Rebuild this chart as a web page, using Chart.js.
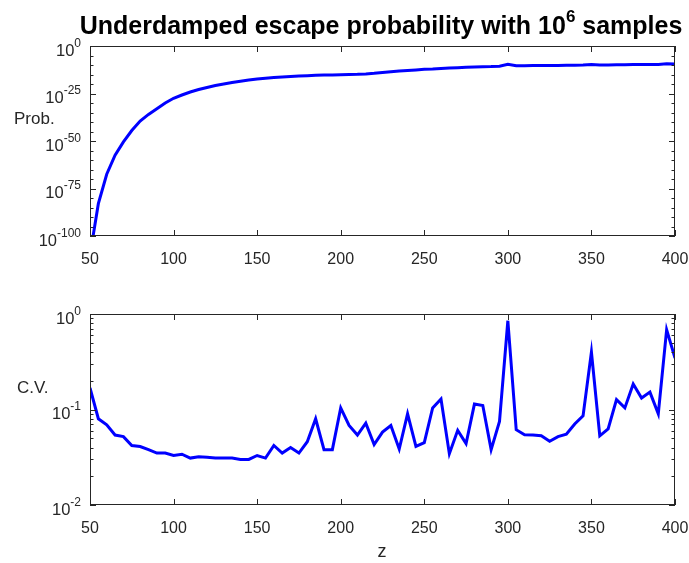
<!DOCTYPE html>
<html>
<head>
<meta charset="utf-8">
<title>Underdamped escape probability</title>
<script src="https://cdn.jsdelivr.net/npm/chart.js@4.4.1/dist/chart.umd.min.js"></script>
<style>
  body { margin: 0; background: #fff; }
  #top { position: absolute; left: 0; top: 0; }
  #bottom { position: absolute; left: 0; top: 290px; }
</style>
</head>
<body>
<canvas id="top" width="689" height="290"></canvas>
<canvas id="bottom" width="689" height="273"></canvas>
<script>
// z values (sample points)
const zValues = [50, 55, 60, 65, 70, 75, 80, 85, 90, 95,
    100, 105, 110, 115, 120, 125, 130, 135, 140, 145,
    150, 155, 160, 165, 170, 175, 180, 185, 190, 195,
    200, 205, 210, 215, 220, 225, 230, 235, 240, 245,
    250, 255, 260, 265, 270, 275, 280, 285, 290, 295,
    300, 305, 310, 315, 320, 325, 330, 335, 340, 345,
    350, 355, 360, 365, 370, 375, 380, 385, 390, 395, 400];

// log10 of escape probability
const probExp = [-110, -83, -67.5, -57.5, -50.5, -44.5, -39.5, -36, -33, -30,
    -27.5, -25.8, -24.2, -22.9, -21.8, -20.8, -20, -19.2, -18.5, -17.9,
    -17.4, -17, -16.6, -16.3, -16, -15.8, -15.6, -15.4, -15.3, -15.2,
    -15.1, -15, -14.9, -14.7, -14.4, -14, -13.6, -13.2, -12.9, -12.6,
    -12.3, -12.1, -11.8, -11.6, -11.4, -11.2, -11, -10.9, -10.8, -10.6,
    -9.6, -10.4, -10.4, -10.3, -10.3, -10.2, -10.2, -10.1, -10.1, -10,
    -9.8, -10, -10, -9.9, -9.9, -9.8, -9.8, -9.7, -9.7, -9.3, -9.5];

// coefficient of variation
const cvValues = [0.168, 0.080, 0.069, 0.054, 0.052, 0.042, 0.041, 0.038, 0.035, 0.035,
    0.033, 0.034, 0.031, 0.032, 0.0316, 0.031, 0.031, 0.031, 0.030, 0.030,
    0.033, 0.031, 0.042, 0.035, 0.040, 0.035, 0.046, 0.080, 0.038, 0.038,
    0.104, 0.068, 0.054, 0.072, 0.043, 0.058, 0.068, 0.0386, 0.090, 0.041,
    0.045, 0.104, 0.129, 0.0345, 0.0605, 0.044, 0.114, 0.110, 0.038, 0.075,
    0.85, 0.0615, 0.0545, 0.054, 0.053, 0.0465, 0.052, 0.055, 0.0705, 0.086,
    0.40, 0.053, 0.0625, 0.127, 0.104, 0.185, 0.132, 0.152, 0.090, 0.685, 0.346];

const xTicks = [50, 100, 150, 200, 250, 300, 350, 400];
const probTicks = [1e-100, 1e-75, 1e-50, 1e-25, 1];
const cvTicks = [0.01, 0.1, 1];

const axisColor = "#262626";
const fontFam = '"Liberation Sans", Arial, sans-serif';

// minor ticks
let probMinor = [];
for (let e = -95; e < 0; e += 5) {
    if (e % 25 !== 0) probMinor.push(Math.pow(10, e));
}
let cvMinor = [];
[0.01, 0.1].forEach(d => {
    for (let k = 2; k <= 9; k++) cvMinor.push(k * d);
});

// frame, inward ticks, superscript labels like matlab
const matlabAxes = {
    id: "matlabAxes",
    afterDraw(chart, args, o) {
        const ctx = chart.ctx;
        const a = chart.chartArea;
        const xs = chart.scales.x, ys = chart.scales.y;
        ctx.save();
        ctx.strokeStyle = axisColor;
        ctx.lineWidth = 1;
        ctx.strokeRect(a.left + 0.5, a.top + 0.5, a.right - a.left - 1, a.bottom - a.top - 1);
        ctx.beginPath();
        xTicks.forEach(v => {
            const px = Math.round(xs.getPixelForValue(v)) + 0.5;
            ctx.moveTo(px, a.bottom); ctx.lineTo(px, a.bottom - 6);
            ctx.moveTo(px, a.top); ctx.lineTo(px, a.top + 6);
        });
        o.major.forEach(v => {
            const py = Math.round(ys.getPixelForValue(v)) + 0.5;
            ctx.moveTo(a.left, py); ctx.lineTo(a.left + 6, py);
            ctx.moveTo(a.right, py); ctx.lineTo(a.right - 6, py);
        });
        o.minor.forEach(v => {
            const py = Math.round(ys.getPixelForValue(v)) + 0.5;
            ctx.moveTo(a.left, py); ctx.lineTo(a.left + 3.5, py);
            ctx.moveTo(a.right, py); ctx.lineTo(a.right - 3.5, py);
        });
        ctx.stroke();

        ctx.fillStyle = axisColor;
        ctx.textBaseline = "middle";
        ctx.textAlign = "left";
        o.major.forEach(v => {
            const py = ys.getPixelForValue(v);
            const e = String(Math.round(Math.log10(v)));
            ctx.font = "12px " + fontFam;
            const we = ctx.measureText(e).width;
            ctx.font = "16.5px " + fontFam;
            const wb = ctx.measureText("10").width;
            const right = a.left - 9;
            ctx.fillText("10", right - we - wb, py + 5);
            ctx.font = "12px " + fontFam;
            ctx.fillText(e, right - we, py - 2.5);
        });

        ctx.font = "17px " + fontFam;
        ctx.fillText(o.yName, o.yNameX, o.yNameY);

        if (o.title) {
            const main = "Underdamped escape probability with 10";
            const sup = "6";
            const tail = " samples";
            ctx.font = "bold 25px " + fontFam;
            const wm = ctx.measureText(main).width;
            const wt = ctx.measureText(tail).width;
            ctx.font = "bold 17px " + fontFam;
            const ws = ctx.measureText(sup).width;
            let x0 = 381 - (wm + ws + wt) / 2;
            ctx.fillStyle = "#000";
            ctx.textBaseline = "alphabetic";
            ctx.font = "bold 25px " + fontFam;
            ctx.fillText(main, x0, 34);
            ctx.font = "bold 17px " + fontFam;
            ctx.fillText(sup, x0 + wm, 22);
            ctx.font = "bold 25px " + fontFam;
            ctx.fillText(tail, x0 + wm + ws, 34);
        }
        if (o.xName) {
            ctx.textAlign = "center";
            ctx.font = "18px " + fontFam;
            ctx.fillStyle = axisColor;
            ctx.fillText(o.xName, 382, o.xNameY);
        }
        ctx.restore();
    }
};

function makeChart(id, values, yType, yMin, yMax, yMajor, axOpts, padTop, xHeight) {
    const pts = zValues.map((z, i) => ({ x: z, y: values[i] }));
    return new Chart(document.getElementById(id), {
        type: "line",
        data: {
            datasets: [{
                data: pts,
                borderColor: "#0000ff",
                borderWidth: 3,
                pointRadius: 0,
                tension: 0,
                fill: false
            }]
        },
        options: {
            responsive: false,
            animation: false,
            layout: { padding: { top: padTop, right: 14, left: 0, bottom: 0 } },
            plugins: {
                legend: { display: false },
                tooltip: { enabled: false },
                matlabAxes: axOpts
            },
            scales: {
                x: {
                    type: "linear",
                    min: 50,
                    max: 400,
                    grid: { display: false },
                    border: { display: false },
                    afterBuildTicks: s => { s.ticks = xTicks.map(v => ({ value: v })); },
                    afterFit: s => {
                        s.height = xHeight;
                        s.paddingLeft = 0;
                        s.paddingRight = 0;
                    },
                    ticks: {
                        padding: 6,
                        color: axisColor,
                        font: { family: fontFam, size: 16 }
                    }
                },
                y: {
                    type: yType,
                    min: yMin,
                    max: yMax,
                    grid: { display: false },
                    border: { display: false },
                    afterBuildTicks: s => { s.ticks = yMajor.map(v => ({ value: v })); },
                    afterFit: s => { s.width = 90; },
                    ticks: { display: false }
                }
            }
        },
        plugins: [matlabAxes]
    });
}

makeChart("top", probExp.map(e => Math.pow(10, e)), "logarithmic", 1e-100, 1, probTicks,
    { major: probTicks, minor: probMinor, yName: "Prob.", yNameX: 14, yNameY: 119, title: true },
    46, 54);

makeChart("bottom", cvValues, "logarithmic", 0.01, 1, cvTicks,
    { major: cvTicks, minor: cvMinor, yName: "C.V.", yNameX: 17, yNameY: 98, xName: "z", xNameY: 262 },
    24, 58);
</script>
</body>
</html>
